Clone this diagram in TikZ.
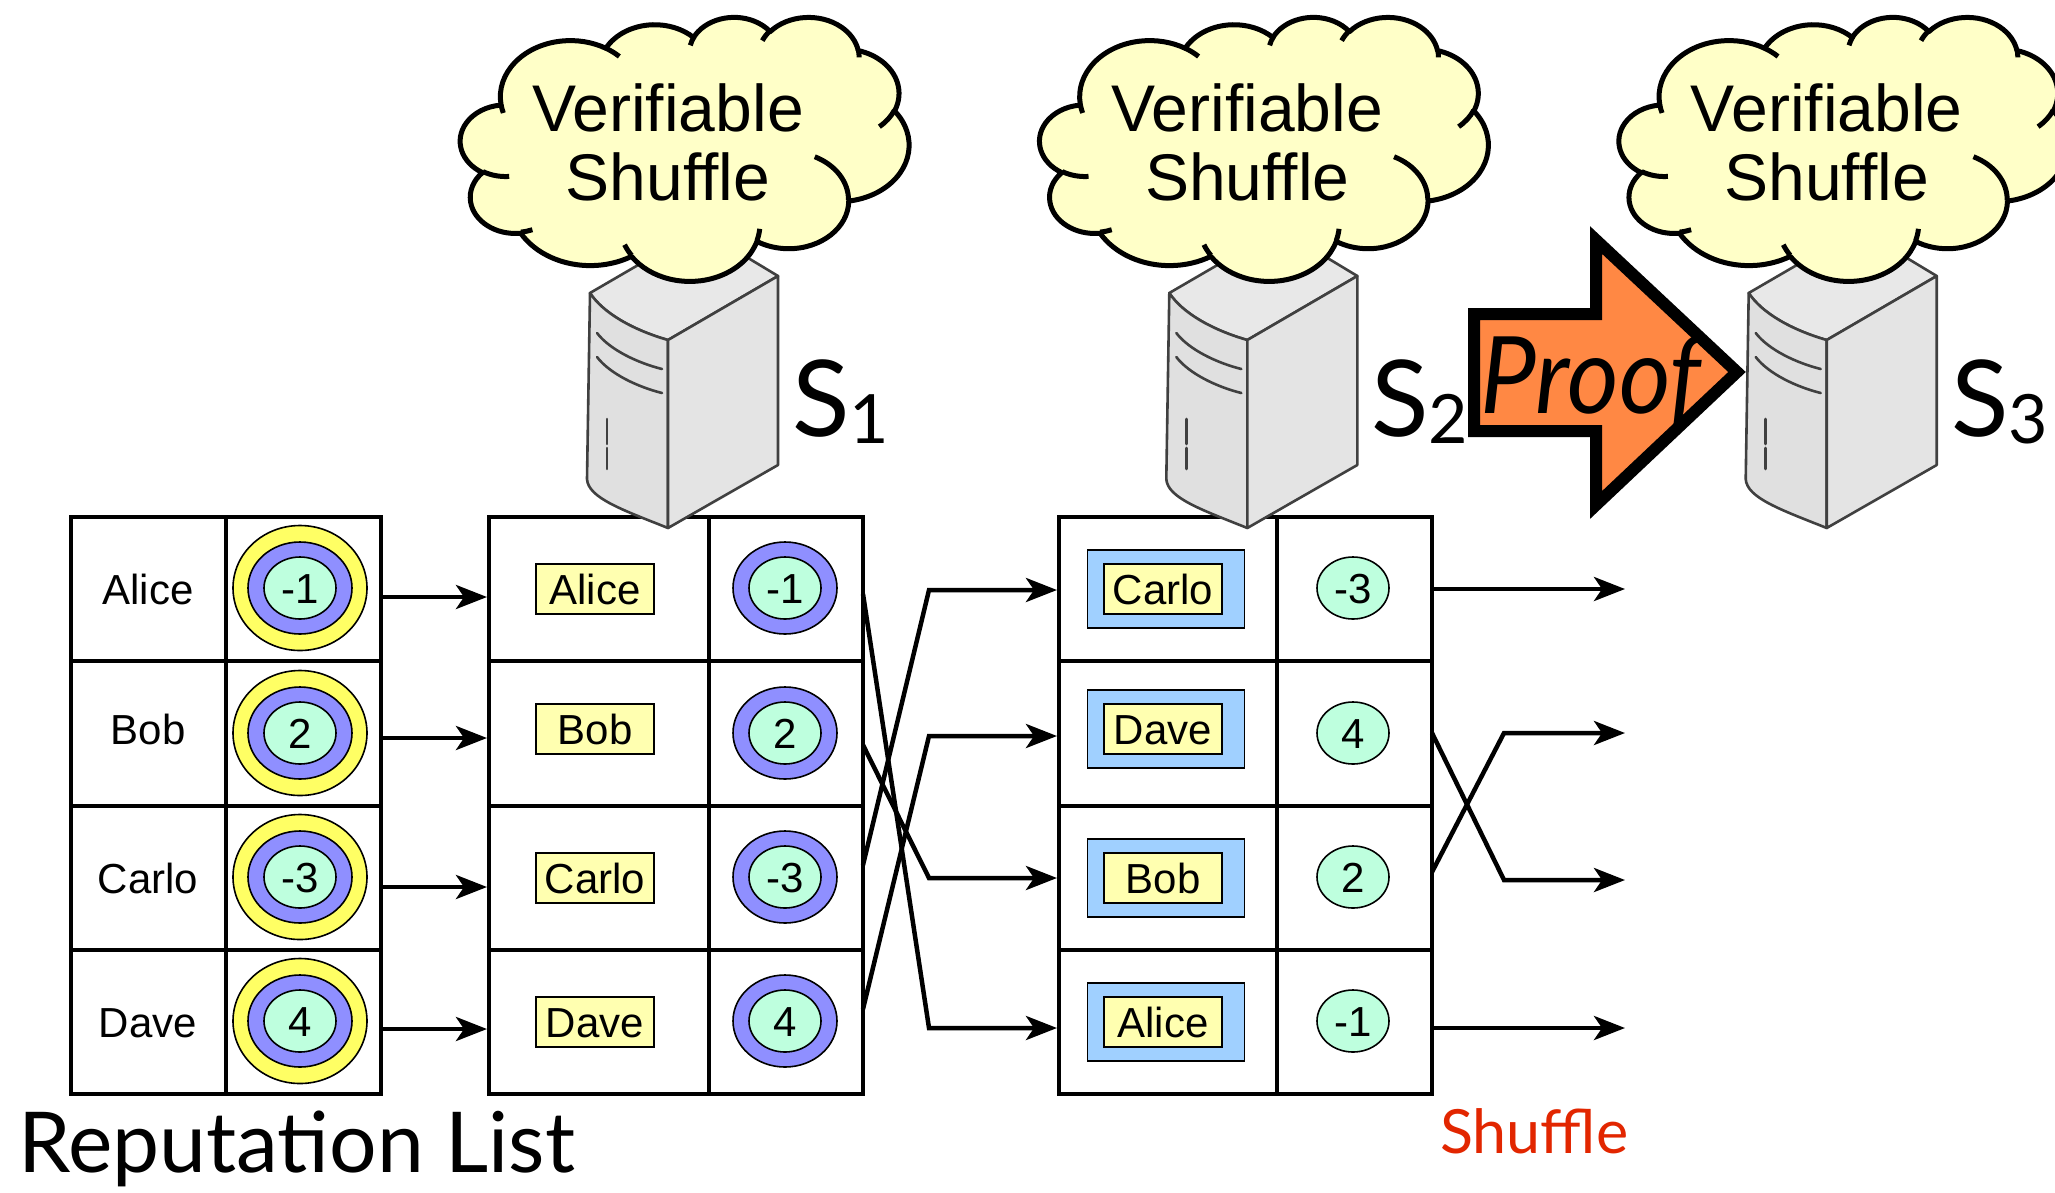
\documentclass[tikz,border=0pt]{standalone}
\usepackage{fontspec}
\usepackage{graphicx}
\setmainfont{Liberation Sans}
\newfontfamily\gillfont{Lato}
\usetikzlibrary{arrows.meta,shapes.geometric}

\definecolor{ringyellow}{RGB}{255,255,100}
\definecolor{ringblue}{RGB}{143,143,255}
\definecolor{ringgreen}{RGB}{190,255,222}
\definecolor{tagyellow}{RGB}{255,255,176}
\definecolor{tagblue}{RGB}{160,208,255}
\definecolor{cloudfill}{RGB}{255,255,200}
\definecolor{srvgray}{RGB}{64,64,64}
\definecolor{srvtopc}{RGB}{232,232,232}
\definecolor{srvleftc}{RGB}{224,224,224}
\definecolor{srvrightc}{RGB}{228,228,228}
\definecolor{prooffill}{RGB}{255,136,68}
\definecolor{shufflered}{RGB}{226,38,0}

% elliptical arc segments of the cloud outline (wR, hR, start, sweep)
\makeatletter
\newcommand\ooprep[5]{%
  \pgfmathsetmacro\oo@a{atan2((#2)*sin(#4),(#3)*cos(#4))}%
  \pgfmathsetmacro\oo@b{atan2((#2)*sin((#4)+(#5)),(#3)*cos((#4)+(#5)))}%
  \pgfmathsetmacro\oo@d{\oo@b-(\oo@a)}%
  \pgfmathsetmacro\oo@d{\oo@d+360*((#5)>0)*((\oo@d)<0)-360*((#5)<0)*((\oo@d)>0)}%
  \expandafter\xdef\csname ooarc#1\endcsname{arc[x radius=#2,y radius=#3,start angle=\oo@a,delta angle=\oo@d]}%
}
\makeatother
\ooprep{a}{67.53}{91.90}{-190.4875}{123.7805}
\ooprep{b}{53.33}{72.67}{-144.1024}{89.9452}
\ooprep{c}{43.65}{59.45}{-145.8079}{99.7230}
\ooprep{d}{48.57}{65.95}{-130.9861}{117.2417}
\ooprep{e}{53.33}{72.73}{-78.7089}{109.0269}
\ooprep{f}{67.75}{92.20}{-46.2673}{130.2690}
\ooprep{g}{57.85}{78.67}{0.6250}{114.0333}
\ooprep{h}{67.52}{92.15}{22.4516}{115.1726}
\ooprep{i}{77.20}{105.43}{66.2426}{75.7110}
\ooprep{j}{43.60}{59.18}{-274.9421}{146.7356}
\ooprep{k}{43.45}{59.45}{-246.8285}{152.5189}
\ooprep{l}{43.45}{59.45}{86.7420}{26.4295}
\ooprep{m}{43.60}{59.18}{73.6105}{11.4475}
\ooprep{n}{67.52}{92.15}{137.6242}{14.0811}
\ooprep{o}{67.52}{92.15}{6.4533}{15.9984}
\ooprep{p}{57.85}{78.67}{-70.2924}{70.9174}
\ooprep{q}{53.33}{72.73}{30.3180}{27.7515}
\ooprep{r}{48.57}{65.95}{-13.7443}{14.8589}
\ooprep{s}{48.57}{65.95}{-149.1815}{18.1954}
\ooprep{t}{43.65}{59.45}{-163.4943}{17.6981}
\ooprep{u}{67.53}{91.90}{-66.7070}{12.3194}
\ooprep{v}{67.53}{91.90}{157.6544}{11.8582}

% a cloud with its two lines of text; #1 = name prefix, #2 = horizontal offset
\newcommand\vcloud[2]{%
  \begin{scope}[shift={(#2+460.5,16.5)},xscale=1.038,yscale=0.611]
    \filldraw[cloudline,fill=cloudfill] (39.00,143.70) \ooarca \ooarcb \ooarcc \ooarcd \ooarce \ooarcf \ooarcg \ooarch \ooarci \ooarcj \ooarck -- cycle;
    \draw[cloudline] (46.93,261.77) \ooarcl (69.28,348.99) \ooarcm (164.78,390.90) \ooarcn
      (288.27,347.51) \ooarco (341.29,229.54) \ooarcp (417.98,153.54) \ooarcq
      (383.24,54.26) \ooarcr (290.78,39.52) \ooarcs (221.41,47.20) \ooarct
      (140.00,51.92) \ooarcu (41.27,157.89) \ooarcv;
  \end{scope}
  \node[cloudtext] (#1a) at (#2+668,131) {Verifiable};
  \node[cloudtext] (#1b) at (#2+668,200) {Shuffle};
}

% a tower server; #1 = horizontal offset
\newcommand\vserver[1]{%
  \begin{scope}[shift={(#1+668,528)}]
    \filldraw[srvline,fill=srvtopc] (-78,-235) -- (32,-299) -- (110,-252) -- (0,-188)
      .. controls (-35,-198) and (-65,-215) .. cycle;
    \filldraw[srvline,fill=srvleftc] (-78,-235) .. controls (-65,-215) and (-35,-198) .. (0,-188)
      -- (0,0) .. controls (-45,-18) and (-80,-30) .. (-81,-49) -- cycle;
    \filldraw[srvline,fill=srvrightc] (0,-188) -- (110,-252) -- (110,-63) -- (0,0) -- cycle;
    \draw[srvline] (-71,-195) .. controls (-58,-178) and (-30,-165) .. (-6,-159);
    \draw[srvline] (-71,-171) .. controls (-58,-154) and (-30,-141) .. (-6,-135);
    \draw[srvline] (-61,-109) -- (-61,-84) (-61,-80) -- (-61,-59);
  \end{scope}}

\begin{document}
\begin{tikzpicture}[x=1pt,y=-1pt,
  grid/.style={line width=4.5pt},
  celltext/.style={font=\fontsize{42}{42}\selectfont, text height=30.5pt, text depth=0pt, inner sep=0pt},
  yring/.style={ellipse, draw, line width=1.6pt, fill=ringyellow, minimum width=134pt, minimum height=125pt, inner sep=0pt},
  bring/.style={ellipse, draw, line width=1.6pt, fill=ringblue, minimum width=104pt, minimum height=92pt, inner sep=0pt},
  gring/.style={ellipse, draw, line width=1.6pt, fill=ringgreen, minimum width=72pt, minimum height=62pt, celltext},
  ytag/.style={rectangle, draw, line width=1.6pt, fill=tagyellow, minimum width=118pt, minimum height=50pt, celltext},
  btag/.style={rectangle, draw, line width=1.6pt, fill=tagblue, minimum width=157pt, minimum height=78pt, inner sep=0pt},
  conn/.style={line width=4.5pt, -{Stealth[length=31pt, width=24pt, inset=8pt]}},
  cloudline/.style={draw=black, line width=5pt, line join=round},
  cloudtext/.style={anchor=base, inner sep=0pt, font=\fontsize{66}{66}\selectfont},
  srvline/.style={draw=srvgray, line width=2.6pt, line join=round, line cap=round},
  slabel/.style={anchor=base west, inner sep=0pt, font=\gillfont\fontsize{106}{106}\selectfont},
]
\useasboundingbox (0,0) rectangle (2055,1192);
\fill[white] (0,0) rectangle (2055,1192);

% the three tables
\foreach \l/\m/\r in {71/226/381, 489/709/863, 1059/1277/1432}{
  \draw[grid] (\l,517) rectangle (\r,1094);
  \draw[grid] (\m,517) -- (\m,1094);
  \foreach \y in {661,806,950} \draw[grid] (\l,\y) -- (\r,\y);
}

% reputation list
\foreach \k/\n/\v/\yn/\yc in {1/Alice/-1/589/588, 2/Bob/2/729/733, 3/Carlo/-3/878/877, 4/Dave/4/1022/1021}{
  \node[celltext] (ra\k) at (148,\yn) {\n};
  \node[yring] (ry\k) at (300,\yc) {};
  \node[bring] (rb\k) at (300,\yc) {};
  \node[gring] (rg\k) at (300,\yc) {\v};
}

% after the first server
\foreach \k/\n/\v/\yn/\yc in {1/Alice/-1/589/588, 2/Bob/2/729/733, 3/Carlo/-3/878/877, 4/Dave/4/1022/1021}{
  \node[ytag] (ma\k) at (595,\yn) {\n};
  \node[bring] (mb\k) at (785,\yc) {};
  \node[gring] (mg\k) at (785,\yc) {\v};
}

% after the second server
\foreach \k/\n/\v/\yn/\yc in {1/Carlo/-3/589/588, 2/Dave/4/729/733, 3/Bob/2/878/877, 4/Alice/-1/1022/1021}{
  \node[btag] (sb\k) at (1166,\yn) {};
  \node[ytag] (sa\k) at (1163,\yn) {\n};
  \node[gring] (sg\k) at (1353,\yc) {\v};
}

% list -> first server
\foreach \k/\y in {1/597, 2/738, 3/887, 4/1029}{
  \coordinate (ps\k) at (381,\y);
  \coordinate (pe\k) at (487,\y);
  \draw[conn] (ps\k) -- (pe\k);
}

% first shuffle
\foreach \k/\ya/\yb in {1/594/1028, 2/745/878, 3/865/590, 4/1009/736}{
  \coordinate (xs\k) at (863,\ya);
  \coordinate (xb\k) at (929,\yb);
  \coordinate (xe\k) at (1057,\yb);
  \draw[conn] (xs\k) -- (xb\k) -- (xe\k);
}

% second shuffle
\foreach \k/\ya/\yb in {1/589/589, 2/733/880, 3/872/733, 4/1028/1028}{
  \coordinate (ys\k) at (1432,\ya);
  \coordinate (yb\k) at (1504,\yb);
  \coordinate (ye\k) at (1625,\yb);
  \draw[conn] (ys\k) -- (yb\k) -- (ye\k);
}

% servers and clouds
\vserver{0}
\vserver{579.3}
\vserver{1158.7}
\vcloud{ca}{0}
\vcloud{cb}{579.3}
\vcloud{cc}{1158.7}

% server labels
\node[slabel] (s1) at (792,436) {S\raisebox{-7pt}{\fontsize{68}{68}\selectfont 1}};
\node[slabel] (s2) at (1371,436) {S\raisebox{-7pt}{\fontsize{68}{68}\selectfont 2}};
\node[slabel] (s3) at (1951,436) {S\raisebox{-7pt}{\fontsize{68}{68}\selectfont 3}};

% proof arrow
\filldraw[fill=prooffill, draw=black, line width=12pt, line join=miter]
  (1474,314) -- (1596,314) -- (1596,240) -- (1737,372) -- (1596,505) -- (1596,431) -- (1474,431) -- cycle;
\node[anchor=base west, inner sep=0pt, font=\gillfont\itshape\fontsize{107}{107}\selectfont] (prooftxt) at (1480,413) {\scalebox{0.93}[1]{Proof}};

% captions
\node[anchor=base west, inner sep=0pt, font=\gillfont\fontsize{84}{84}\selectfont] (replist) at (18,1172) {Reputation List};
\node[anchor=base west, inner sep=0pt, font=\gillfont\fontsize{61}{61}\selectfont, text=shufflered] (shuf) at (1440,1153) {Shuffle};
\end{tikzpicture}
\end{document}
